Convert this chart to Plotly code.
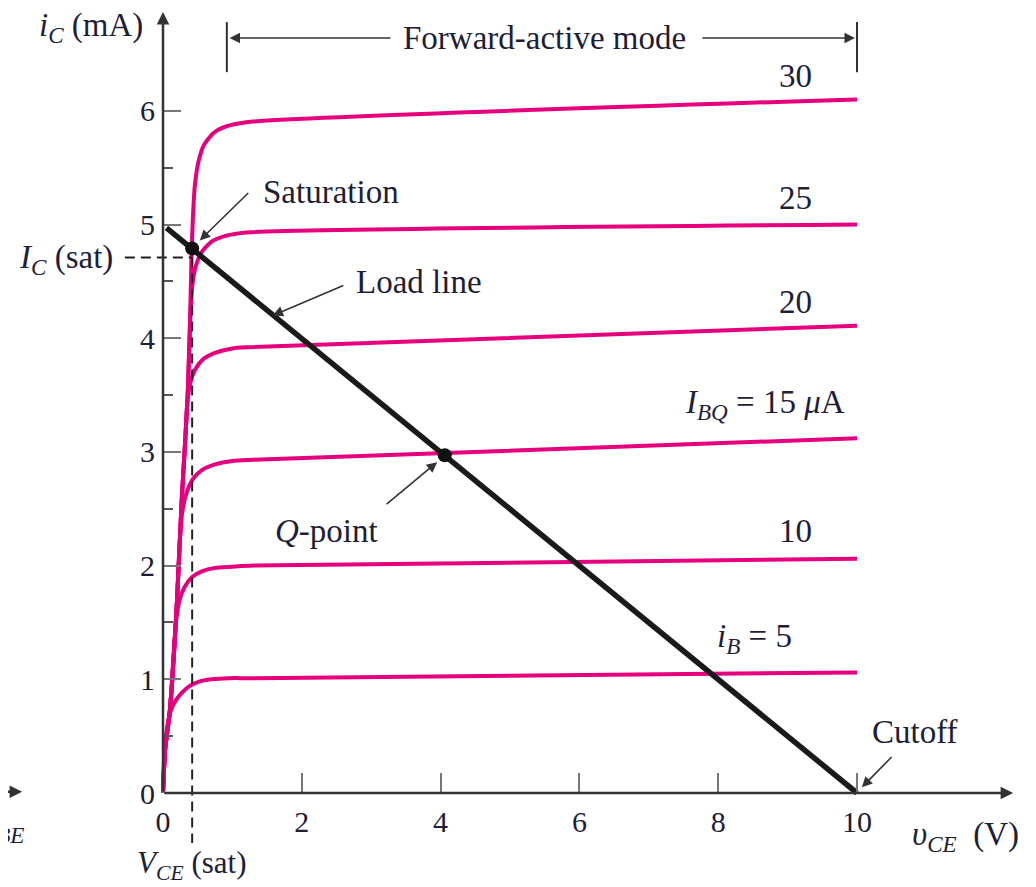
import plotly.graph_objects as go

# ---------------- data ----------------
ib_labels = ["30", "25", "20", "15", "10", "5"]

ic30_x = [0, 0.03, 0.1, 0.2, 0.27, 0.32, 0.36, 0.39, 0.41, 0.43, 0.46, 0.51, 0.59, 0.72, 0.9, 1.2, 10]
ic30_y = [0, 0.38, 0.73, 1.67, 2.58, 3.1, 3.57, 4.15, 4.7, 5.05, 5.35, 5.55, 5.7, 5.8, 5.86, 5.9, 6.1]

ic25_x = [0, 0.03, 0.1, 0.2, 0.27, 0.32, 0.36, 0.39, 0.42, 0.47, 0.56, 0.7, 0.9, 1.2, 10]
ic25_y = [0, 0.38, 0.73, 1.67, 2.58, 3.1, 3.57, 4.15, 4.45, 4.63, 4.76, 4.85, 4.9, 4.93, 5.0]

ic20_x = [0, 0.03, 0.1, 0.2, 0.27, 0.32, 0.35, 0.39, 0.46, 0.57, 0.75, 1.0, 1.2, 10]
ic20_y = [0, 0.38, 0.73, 1.67, 2.58, 3.1, 3.42, 3.6, 3.72, 3.81, 3.87, 3.91, 3.92, 4.11]

ic15_x = [0, 0.03, 0.1, 0.2, 0.24, 0.28, 0.34, 0.43, 0.56, 0.75, 1.0, 1.3, 10]
ic15_y = [0, 0.38, 0.73, 1.67, 2.2, 2.48, 2.64, 2.76, 2.84, 2.89, 2.92, 2.93, 3.12]

ic10_x = [0, 0.03, 0.1, 0.15, 0.19, 0.24, 0.31, 0.42, 0.56, 0.75, 1.0, 1.3, 10]
ic10_y = [0, 0.38, 0.73, 1.2, 1.52, 1.7, 1.81, 1.9, 1.95, 1.98, 1.99, 2.0, 2.06]

ic5_x = [0, 0.02, 0.06, 0.11, 0.18, 0.27, 0.38, 0.52, 0.7, 0.95, 1.3, 10]
ic5_y = [0, 0.35, 0.58, 0.72, 0.81, 0.88, 0.94, 0.98, 1.0, 1.01, 1.01, 1.06]

load_x = [0.05, 10]
load_y = [4.97, 0]

q_point = (4.06, 2.97)
sat_point = (0.42, 4.79)
ic_sat = 4.71
vce_sat = 0.42

x_ticks = [0, 2, 4, 6, 8, 10]
y_ticks = [0, 1, 2, 3, 4, 5, 6]
y_minor = [0.5, 1.5, 2.5, 3.5, 4.5, 5.5]

# ---------------- styling ----------------
MAG = "#E6007E"
TXT = "#1e1e38"
FONT = "Liberation Serif"
FS = 33

# page body has an 8px margin: figure is drawn offset by 8px
W, H = 1028, 879
X0PX, Y0PX = 163 - 8, 793 - 8
PXX, PXY = 69.4, 113.7
xr = [-X0PX / PXX, (W - X0PX) / PXX]
yr = [-(H - Y0PX) / PXY, Y0PX / PXY]

fig = go.Figure()

curves = [(ic30_x, ic30_y), (ic25_x, ic25_y), (ic20_x, ic20_y),
          (ic15_x, ic15_y), (ic10_x, ic10_y), (ic5_x, ic5_y)]
for (cx, cy), lab in zip(curves, ib_labels):
    fig.add_trace(go.Scatter(x=cx, y=cy, mode="lines", name=lab,
                             line=dict(color=MAG, width=4, shape="spline", smoothing=0.6),
                             hoverinfo="skip"))

fig.add_trace(go.Scatter(x=load_x, y=load_y, mode="lines",
                         line=dict(color="#1a1a1a", width=5.5), hoverinfo="skip"))
fig.add_trace(go.Scatter(x=[sat_point[0], q_point[0]], y=[sat_point[1], q_point[1]],
                         mode="markers", marker=dict(color="#111", size=14), hoverinfo="skip"))

shapes = [
    dict(type="line", x0=-0.55, x1=vce_sat, y0=ic_sat, y1=ic_sat,
         line=dict(color="#222", width=2, dash="10px,6px")),
    dict(type="line", x0=vce_sat, x1=vce_sat, y0=ic_sat, y1=-0.44,
         line=dict(color="#222", width=2, dash="10px,6px")),
    dict(type="line", x0=0.92, x1=0.92, y0=6.34, y1=6.78, line=dict(color="#333", width=2)),
    dict(type="line", x0=10, x1=10, y0=6.34, y1=6.78, line=dict(color="#333", width=2)),
]

anns = []
def arrow(x, y, ax, ay, w=1.6, head=2, size=1.3, color="#333"):
    anns.append(dict(x=x, y=y, ax=ax, ay=ay, xref="x", yref="y", axref="x", ayref="y",
                     text="", showarrow=True, arrowhead=head, arrowsize=size,
                     arrowwidth=w, arrowcolor=color, standoff=0, startstandoff=0))

def label(x, y, t, size=FS, xanchor="center"):
    anns.append(dict(x=x, y=y, xref="x", yref="y", text=t, showarrow=False,
                     xanchor=xanchor, yanchor="middle",
                     font=dict(family=FONT, size=size, color=TXT)))

# axes with arrowheads
arrow(12.25, 0, 0, 0, w=2.5, size=1.0, color="#333")
arrow(0, 6.87, 0, 0, w=2.5, size=1.0, color="#333")
# stray arrow from neighbouring figure on the left
arrow(-2.03, 0.01, -2.6, 0.01, w=2.5, size=1.0, color="#333")

# forward-active arrows
arrow(0.96, 6.64, 3.3, 6.64)
arrow(9.97, 6.64, 7.75, 6.64)

# pointer arrows
arrow(0.53, 4.86, 1.25, 5.29)      # saturation
arrow(1.58, 4.2, 2.62, 4.47)       # load line
arrow(3.95, 2.91, 3.2, 2.53)       # Q-point
arrow(10.07, 0.05, 10.52, 0.33)    # cutoff

label(5.49, 6.64, "Forward-active mode")
label(9.11, 6.31, ib_labels[0])
label(9.11, 5.23, ib_labels[1])
label(9.11, 4.32, ib_labels[2])
label(8.67, 3.42, "<i>I</i><sub><i>BQ</i></sub> = " + ib_labels[3] + " <i>μ</i>A")
label(9.11, 2.30, ib_labels[4])
label(8.53, 1.36, "<i>i</i><sub><i>B</i></sub> = " + ib_labels[5])
label(2.42, 5.29, "Saturation")
label(3.69, 4.49, "Load line")
label(2.35, 2.30, "<i>Q</i>-point")
label(10.84, 0.54, "Cutoff")
label(-1.40, 4.69, "<i>I</i><sub><i>C</i></sub> (sat)")
label(0.42, -0.63, "<i>V</i><sub><i>CE</i></sub> (sat)", size=31)
label(11.57, -0.38, "<i>υ</i><sub><i>CE</i></sub>  (V)")
label(-1.04, 6.73, "<i>i</i><sub><i>C</i></sub> (mA)")
label(-1.97, -0.3, "<i>υ</i><sub><i>BE</i></sub>", xanchor="right")

tickfont = dict(family=FONT, size=30, color=TXT)
fig.update_layout(
    width=W, height=H, margin=dict(l=0, r=0, t=0, b=0),
    paper_bgcolor="white", plot_bgcolor="white", showlegend=False,
    shapes=shapes, annotations=anns,
    xaxis=dict(range=xr, anchor="free", position=(H - Y0PX) / H, showline=False,
               showgrid=False, zeroline=False, ticks="inside", ticklen=20, tickwidth=2,
               tickcolor="#777", tickmode="array", tickvals=x_ticks,
               ticktext=[str(v) for v in x_ticks], tickfont=tickfont,
               ticklabelstandoff=8, fixedrange=True),
    yaxis=dict(range=yr, anchor="free", position=X0PX / W, showline=False,
               showgrid=False, zeroline=False, ticks="inside", ticklen=17, tickwidth=2,
               tickcolor="#777", tickmode="array", tickvals=y_ticks,
               ticktext=[str(v) for v in y_ticks], tickfont=tickfont,
               ticklabelstandoff=8, fixedrange=True,
               minor=dict(tickmode="array", tickvals=y_minor, ticks="inside", ticklen=9,
                          tickwidth=2, tickcolor="#555")),
)

fig.write_html("out.html")
